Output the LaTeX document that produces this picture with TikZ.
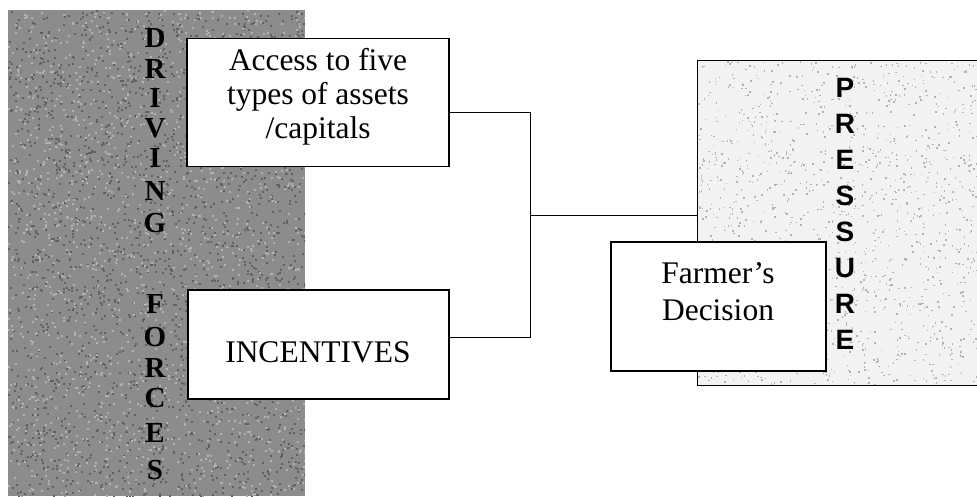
\documentclass[tikz,border=0pt]{standalone}
\usepackage{fontspec}
\setmainfont{Liberation Serif}
\setsansfont{Liberation Sans}
\begin{document}
\begin{tikzpicture}[x=1pt,y=-1pt,
  bgfill/.style={fill=black!45},
  box/.style={draw=black, line width=1.3pt, fill=white, inner sep=0pt},
  pbox/.style={draw=black, line width=1.2pt, fill=black!5, inner sep=0pt},
  txt/.style={font=\fontsize{31.5}{34}\selectfont, align=center, inner sep=0pt},
  dletter/.style={font=\fontsize{29}{29}\selectfont\bfseries, anchor=base, inner sep=0pt},
  pletter/.style={font=\fontsize{28}{28}\selectfont\sffamily\bfseries, anchor=base, inner sep=0pt},
  conn/.style={line width=1pt}]
\useasboundingbox (0,0) rectangle (977,496);
\clip (0,0) rectangle (977,496);
\pgfmathsetseed{17}
% background panel of driving forces
\node[bgfill, inner sep=0pt, minimum width=297.5pt, minimum height=486pt, anchor=north west] (drivingbg) at (7.5,10) {};
\begin{scope}
  \clip (7.5,10) rectangle (305,496);
  \foreach \k in {1,...,2200}
    \fill[black!62] ({7.5+297*rnd},{10+486*rnd}) rectangle ++(2,2);
  \foreach \k in {1,...,1600}
    \fill[black!30] ({7.5+297*rnd},{10+486*rnd}) rectangle ++(2,2);
\end{scope}
% pressure panel
\node[pbox, minimum width=320pt, minimum height=325pt, anchor=north west] (pressure) at (697,60) {};
\begin{scope}
  \clip (698,61) rectangle (977,384);
  \foreach \k in {1,...,1400}
    \fill[black!30] ({698+280*rnd},{61+323*rnd}) rectangle ++(1.5,1.5);
\end{scope}
% DRIVING FORCES letters
\foreach \l/\y [count=\i] in {D/38,R/69,I/98,V/128,I/158,N/191,G/223,F/304,O/337,R/368,C/398,E/433,S/470}
  \node[dletter] (d\i) at (155,{\y+9.6}) {\l};
% PRESSURE letters
\foreach \l [count=\i] in {P,R,E,S,S,U,R,E}
  \node[pletter] (p\i) at (845,{87+36*(\i-1)+10}) {\l};
% boxes
\node[box, minimum width=262pt, minimum height=128pt] (access) at (318,102.5) {};
\node[txt] (accesstxt) at (318,96.8) {Access to five\\types of assets\\/capitals};
\node[box, minimum width=261pt, minimum height=109pt] (incent) at (318.5,344.5) {};
\node[txt, anchor=base] (incenttxt) at (318,362) {INCENTIVES};
\node[box, minimum width=215pt, minimum height=129pt] (farmer) at (718.5,306.5) {};
\node[txt, font=\fontsize{31.5}{37}\selectfont] (farmertxt) at (718,291.5) {Farmer's\\Decision};
% connectors
\coordinate (j) at (530,215);
\draw[conn] ([yshift=-9.5pt]access.east) -| (j);
\draw[conn] ([yshift=7.5pt]incent.east) -| (j);
\draw[conn] (j) -- (pressure.west |- j);
\end{tikzpicture}
\end{document}
